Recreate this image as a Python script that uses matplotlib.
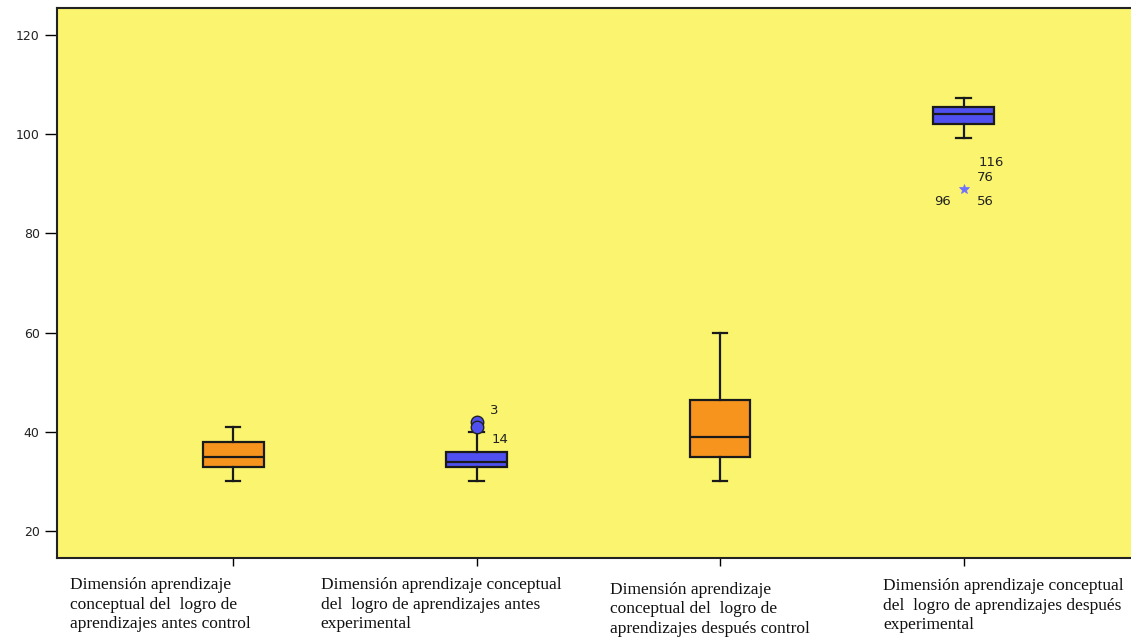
import matplotlib
matplotlib.use("Agg")
import matplotlib.pyplot as plt

# box statistics
groups = [1, 2, 3, 4]
whislo = [30, 30, 30, 99.2]
q1 = [33, 33, 35, 102.1]
med = [35, 34, 39, 104]
q3 = [38, 36, 46.5, 105.4]
whishi = [41, 40, 60, 107.2]
colors = ["#F7941E", "#5050F0", "#F7941E", "#5050F0"]

labels = [
    "Dimensión aprendizaje\nconceptual del  logro de\naprendizajes antes control",
    "Dimensión aprendizaje conceptual\ndel  logro de aprendizajes antes\nexperimental",
    "Dimensión aprendizaje\nconceptual del  logro de\naprendizajes después control",
    "Dimensión aprendizaje conceptual\ndel  logro de aprendizajes después\nexperimental",
]

# outliers (circle) in group 2, extremes (star) in group 4
out_group = [2, 2]
out_val = [42, 41]
out_case = ["3", "14"]
ext_group = [4]
ext_val = [89]
ext_cases = [["116", "76", "96", "56"]]

fig = plt.figure(figsize=(11.31, 6.39), dpi=100)
ax = fig.add_axes([0.0504, 0.1268, 0.958, 0.8607])
ax.set_facecolor("#FAF46E")

stats = []
for i in range(4):
    stats.append(dict(whislo=whislo[i], q1=q1[i], med=med[i], q3=q3[i],
                      whishi=whishi[i], fliers=[]))

bp = ax.bxp(stats, positions=groups, widths=0.25, patch_artist=True,
            showfliers=False, capwidths=0.06,
            boxprops=dict(linewidth=1.6, edgecolor="#1a1a1a"),
            medianprops=dict(color="#1a1a1a", linewidth=1.6),
            whiskerprops=dict(color="#1a1a1a", linewidth=1.6),
            capprops=dict(color="#1a1a1a", linewidth=1.6))
for patch, c in zip(bp["boxes"], colors):
    patch.set_facecolor(c)

ax.plot(out_group, out_val, "o", color="#5050F0", markeredgecolor="#222222",
        markersize=9, markeredgewidth=1.0, zorder=5)
ax.plot(ext_group, ext_val, "*", color="#7070FF", markersize=7,
        markeredgewidth=0.5, zorder=5)

fnt = dict(fontsize=9.5, family="DejaVu Sans", color="#222222")
offs_out = [(10, 8), (11, -9)]
for g, v, c, o in zip(out_group, out_val, out_case, offs_out):
    ax.annotate(c, (g, v), xytext=o, textcoords="offset points",
                ha="left", va="center", **fnt)
offs_ext = [(20, 19), (16, 8), (-15, -9), (16, -9)]
for g, v, cs in zip(ext_group, ext_val, ext_cases):
    for c, o in zip(cs, offs_ext):
        ax.annotate(c, (g, v), xytext=o, textcoords="offset points",
                    ha="center", va="center", **fnt)

ax.set_xlim(0.2766, 4.727)
ax.set_ylim(14.56, 125.44)
ax.set_yticks([20, 40, 60, 80, 100, 120])
ax.set_xticks(groups)
ax.set_xticklabels([])
ax.tick_params(axis="y", length=8.5, width=1, labelsize=9, pad=4,
               labelcolor="#222222")
ax.tick_params(axis="x", length=6, width=1)
for s in ax.spines.values():
    s.set_linewidth(1.5)
    s.set_color("#222222")

# category labels, left aligned below each box
lab_dx = [-0.67, -0.64, -0.45, -0.33]
lab_y = [-0.034, -0.034, -0.043, -0.036]
for g, t, dx, yy in zip(groups, labels, lab_dx, lab_y):
    ax.text(g + dx, yy, t, transform=ax.get_xaxis_transform(), ha="left",
            va="top", fontsize=12.5, family="Liberation Serif",
            linespacing=1.32, color="#111111")

fig.savefig("out.png", dpi=100)
